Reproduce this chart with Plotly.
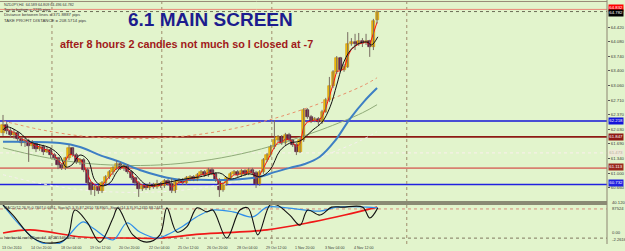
import plotly.graph_objects as go
import pandas as pd

# ---------------- data (NZDJPY H4) ----------------
opens = [61.94,62.12,61.98,61.89,61.94,61.80,61.70,61.75,61.63,61.68,
 61.56,61.61,61.49,61.54,61.42,61.35,61.19,61.12,61.35,61.59,
 61.42,61.26,61.30,61.07,60.77,60.60,60.67,60.58,60.77,60.91,
 61.02,61.12,61.21,61.12,61.16,61.02,60.88,60.77,60.63,60.70,
 60.65,60.72,60.67,60.74,60.70,60.81,60.74,60.58,60.79,60.84,
 60.77,60.88,60.91,60.86,60.95,61.02,60.95,61.07,60.98,60.84,
 60.60,60.74,60.88,60.98,61.02,60.95,61.05,60.98,61.07,61.00,
 60.74,61.02,61.30,61.42,61.61,61.77,61.84,61.70,61.89,61.77,
 61.66,61.49,61.77,62.48,62.31,62.22,62.27,62.19,62.43,62.71,
 63.04,63.37,63.69,63.41,63.48,64.02,64.07,64.02,64.09,64.05,
 64.09,63.95,64.59]
closes = [62.12,61.98,61.89,61.94,61.80,61.70,61.75,61.63,61.68,61.56,
 61.61,61.49,61.54,61.42,61.35,61.19,61.12,61.35,61.59,61.42,
 61.26,61.30,61.07,60.77,60.60,60.67,60.58,60.77,60.91,61.02,
 61.12,61.21,61.12,61.16,61.02,60.88,60.77,60.63,60.70,60.65,
 60.72,60.67,60.74,60.70,60.81,60.74,60.58,60.79,60.84,60.77,
 60.88,60.91,60.86,60.95,61.02,60.95,61.07,60.98,60.84,60.60,
 60.74,60.88,60.98,61.02,60.95,61.05,60.98,61.07,61.00,60.74,
 61.02,61.30,61.42,61.61,61.77,61.84,61.70,61.89,61.77,61.66,
 61.49,61.77,62.48,62.31,62.22,62.27,62.19,62.43,62.71,63.04,
 63.37,63.69,63.41,63.48,64.02,64.07,64.02,64.09,64.05,64.09,
 63.95,64.56,64.78]
highs = [62.36,62.19,62.05,62.03,61.98,61.84,61.84,61.80,61.77,61.70,
 61.68,61.66,61.61,61.59,61.47,61.38,61.23,61.38,61.66,61.61,
 61.47,61.35,61.35,61.12,60.81,60.72,60.72,60.81,60.95,61.07,
 61.16,61.30,61.26,61.21,61.21,61.07,60.91,60.81,60.74,60.74,
 60.79,60.77,60.84,60.79,60.86,60.86,60.88,60.84,60.88,60.88,
 60.93,60.95,60.95,61.00,61.07,61.07,61.12,61.12,61.02,60.88,
 60.79,60.91,61.02,61.07,61.07,61.09,61.09,61.12,61.12,61.05,
 61.07,61.35,61.47,61.66,62.24,61.89,61.89,61.94,61.94,61.80,
 61.70,61.82,62.52,62.52,62.36,62.31,62.31,62.48,62.76,63.25,
 63.41,63.74,63.72,63.55,64.30,64.16,64.26,64.28,64.16,64.26,
 64.12,64.61,64.81]
lows = [61.87,61.91,61.82,61.80,61.75,61.63,61.61,61.26,61.56,61.49,
 61.52,61.42,61.47,61.35,61.30,61.09,61.07,61.07,61.30,61.38,
 61.21,61.19,61.02,60.72,60.49,60.46,60.51,60.53,60.72,60.86,
 60.95,61.07,61.07,61.05,60.98,60.84,60.70,60.44,60.58,60.60,
 60.60,60.63,60.63,60.65,60.65,60.70,60.53,60.53,60.74,60.72,
 60.72,60.81,60.81,60.81,60.91,60.91,60.91,60.95,60.79,60.44,
 60.56,60.70,60.84,60.95,60.91,60.91,60.93,60.95,60.95,60.65,
 60.70,60.98,61.26,61.38,61.56,61.73,61.66,61.66,61.73,61.61,
 61.42,61.47,61.73,62.27,62.17,62.19,62.12,62.15,62.41,62.66,
 62.99,63.32,63.37,63.37,63.46,63.98,63.88,63.98,63.95,64.00,
 63.72,63.88,64.50]

# slow MA (blue)
blue_bars = [0,15.5,21,26.4,31.9,37.3,42.8,48.2,53.7,61.9,70,74,78.2,82.3,86.4,90.5,94.6,98.6,102]
blue_vals = [61.73,61.70,61.61,61.42,61.26,61.07,60.93,60.84,60.84,60.84,60.91,61.02,61.12,61.21,61.38,61.75,62.27,62.69,62.99]
# medium MA (black)
black_bars = [0,1.1,4.6,7.4,12.8,15.5,17.2,18.8,21,23.2,25,27,29.2,31,32.7,35.4,39.2,42.8,48.2,53.7,59.1,61.9,67.3,70,72.8,75.5,78.2,81,84.5,87,89.2,91,92.6,94.6,96.7,99.2,100.5,102.2]
black_vals = [62.01,62.08,61.94,61.73,61.59,61.40,61.14,61.19,61.42,61.30,60.84,60.70,60.77,61.02,61.16,61.02,60.72,60.74,60.84,60.91,61.00,60.86,60.98,60.91,61.07,61.52,61.70,61.75,62.01,62.19,62.55,63.06,63.53,63.86,64.02,64.07,64.00,64.19]
# regression channel
chan_bars = [0,10,21,32,43,54,65,76,87,98,102]
chan_mid = [61.59,61.39,61.24,61.18,61.19,61.28,61.45,61.70,62.02,62.41,62.60]
chan_up = [62.22,62.02,61.87,61.81,61.82,61.91,62.08,62.33,62.65,63.04,63.23]
chan_lo = [60.96,60.76,60.61,60.55,60.56,60.65,60.82,61.07,61.39,61.78,61.97]

# horizontal levels (price, color, width, dash, label bg, label text color)
levels = [(62.218, "#1414D8", 1.6, "solid", "#1414D8", "white"),
          (61.847, "#8E1A14", 1.6, "solid", "#8E1A14", "white"),
          (61.473, "#F6F0E6", 1.2, "dot", "#EEE8D8", "#B8B0A0"),
          (61.113, "#D88070", 1.6, "solid", "#9A2A1E", "white"),
          (60.732, "#2020E0", 1.6, "solid", "#2020E0", "white")]
bid, ask = 64.782, 64.832

price_ticks = [64.420,64.080,63.740,63.400,63.060,62.710,62.370,62.030,61.690,61.340,61.000,60.660]

date_bars = [0,8,16,24,32,40,48,56,64,72,80,88,96]
date_labels = ["13 Oct 2010","14 Oct 20:00","18 Oct 04:00","19 Oct 12:00","20 Oct 20:00","22 Oct 04:00",
               "25 Oct 12:00","26 Oct 20:00","28 Oct 04:00","29 Oct 12:00","1 Nov 20:00","3 Nov 04:00","4 Nov 12:00"]
separators = [13.35, 43.3, 73.3, 110.1]

# oscillator sub window (0..100 scale)
osc_red_bars = [0,7.4,21.8,35.4,42.8,53.7,72,84.5,93.2,102]
osc_red = [22,31,11,8,8,19,31,53,72,94]
osc_blue_bars = [0,4.6,10.1,15.5,21.8,24.5,30,33.8,37.3,42,44.7,48.2,53.7,57.2,62.7,68.1,72,77.4,86.4,91,99.2,102.2]
osc_blue = [100,44,-3,-6,53,36,3,50,25,8,17,36,72,86,81,67,94,92,83,94,94,92]
osc_black_bars = [0,2.7,8.2,12.8,17.4,19.6,22.9,26.4,30,31.3,35.4,39.2,42.8,44.7,47.4,50.1,52.9,55.6,57.2,61,64.6,66.8,69.5,72.8,74.7,78.2,81,83.1,86.4,89.6,92.6,98.1,100,102.2]
osc_black = [100,72,8,-6,8,86,53,-3,64,92,17,-3,17,92,25,39,92,81,86,8,86,92,17,100,100,72,44,86,72,94,94,94,64,92]

# ---------------- figure ----------------
W, H = 625, 251
BG = "#E2F4CC"
XR = 607 / W
XRANGE = [-0.82, 164.7]
FONT = "Liberation Sans"
def py(p):
    return 1 - p / H

n = len(closes)
idx = list(range(n))
fig = go.Figure()

# regression channel
fig.add_trace(go.Scatter(x=chan_bars, y=chan_up, mode="lines", line=dict(color="#E8906A", width=1, dash="dot", shape="spline")))
fig.add_trace(go.Scatter(x=chan_bars, y=chan_mid, mode="lines", line=dict(color="#8FAA78", width=1, shape="spline")))
fig.add_trace(go.Scatter(x=chan_bars, y=chan_lo, mode="lines", line=dict(color="#F6F0F0", width=1, dash="dot", shape="spline")))

# blue MA
fig.add_trace(go.Scatter(x=blue_bars, y=blue_vals, mode="lines", line=dict(color="#3D7FC4", width=2, shape="spline")))
# red fast MA (EMA3 of closes)
red_ma = pd.Series(closes).ewm(span=3, adjust=False).mean().tolist()
fig.add_trace(go.Scatter(x=idx, y=red_ma, mode="lines", line=dict(color="#FF1010", width=1)))

# wicks
wx, wy = [], []
for i in idx:
    wx += [i, i, None]
    wy += [lows[i], highs[i], None]
fig.add_trace(go.Scatter(x=wx, y=wy, mode="lines", line=dict(color="#776A60", width=1)))

# bodies
bull = [i for i in idx if closes[i] >= opens[i]]
bear = [i for i in idx if closes[i] < opens[i]]
fig.add_trace(go.Bar(x=bull, y=[max(closes[i] - opens[i], 0.012) for i in bull], base=[opens[i] for i in bull],
                     width=0.85, marker=dict(color="#F5C200", line=dict(color="#D08C00", width=0.6))))
fig.add_trace(go.Bar(x=bear, y=[max(opens[i] - closes[i], 0.012) for i in bear], base=[closes[i] for i in bear],
                     width=0.85, marker=dict(color="#6C1E48", line=dict(color="#4A1030", width=0.6))))

# black MA on top
fig.add_trace(go.Scatter(x=black_bars, y=black_vals, mode="lines", line=dict(color="#101010", width=1, shape="spline")))

# oscillators
fig.add_trace(go.Scatter(x=osc_red_bars, y=osc_red, mode="lines", xaxis="x2", yaxis="y2", line=dict(color="#F01818", width=1.6, shape="spline")))
fig.add_trace(go.Scatter(x=osc_blue_bars, y=osc_blue, mode="lines", xaxis="x2", yaxis="y2", line=dict(color="#2F8FEA", width=1.2, shape="spline")))
fig.add_trace(go.Scatter(x=osc_black_bars, y=osc_black, mode="lines", xaxis="x2", yaxis="y2", line=dict(color="#111111", width=1.1, shape="spline")))

shapes = []
ann = []
def label(p, bg, fg, ys=0):
    ann.append(dict(xref="paper", x=608 / W, xanchor="left", yref="y", y=p, yanchor="middle", yshift=ys, text=f"{p:.3f}",
                    showarrow=False, bgcolor=bg, font=dict(size=4.3, color=fg, family=FONT), borderpad=0.3))
# horizontal levels
for p, c, w, d, lb, lt in levels:
    shapes.append(dict(type="line", xref="paper", x0=0, x1=XR, yref="y", y0=p, y1=p, line=dict(color=c, width=w, dash=d), layer="below"))
    label(p, lb, lt, 1 if p < 61.2 else 0)
shapes.append(dict(type="line", xref="paper", x0=0, x1=XR, yref="y", y0=ask, y1=ask, line=dict(color="#E88A78", width=1)))
shapes.append(dict(type="line", xref="paper", x0=0, x1=XR, yref="y", y0=bid, y1=bid, line=dict(color="#6E6E58", width=1, dash="dot")))
label(ask, "#FF0000", "white", 1.5)
label(bid, "#000000", "white", -1.5)
# top border
shapes.append(dict(type="line", xref="paper", x0=0, x1=XR, yref="paper", y0=py(1.5), y1=py(1.5), line=dict(color="#9A8C78", width=1)))
# separators (vertical dotted)
for s in separators:
    shapes.append(dict(type="line", xref="x", x0=s, x1=s, yref="paper", y0=py(244), y1=1, line=dict(color="#A08C6C", width=1, dash="dot"), layer="below"))
# window separator band
shapes.append(dict(type="rect", xref="paper", x0=0, x1=XR, yref="paper", y0=py(205), y1=py(201), fillcolor="#8A8A74", line=dict(width=0)))
# oscillator levels
shapes.append(dict(type="line", xref="paper", x0=0, x1=XR, yref="y2", y0=89, y1=89, line=dict(color="#D88C7C", width=1, dash="dot"), layer="below"))
shapes.append(dict(type="line", xref="paper", x0=0, x1=XR, yref="y2", y0=8, y1=8, line=dict(color="#807860", width=1, dash="dot"), layer="below"))
# right border
shapes.append(dict(type="line", xref="paper", x0=XR, x1=XR, yref="paper", y0=py(244), y1=1, line=dict(color="#8C8470", width=1)))

# texts
ann.append(dict(xref="paper", yref="paper", x=210 / W, xanchor="center", y=py(19.5), yanchor="middle",
                text="<b>6.1 MAIN SCREEN</b>", showarrow=False, font=dict(size=19, color="#1C1C8E", family=FONT)))
ann.append(dict(xref="paper", yref="paper", x=186.5 / W, xanchor="center", y=py(44), yanchor="middle",
                text="<b>after 8 hours 2 candles not much so I closed at -7</b>",
                showarrow=False, font=dict(size=10.8, color="#A01A1A", family=FONT)))
head = ["NZDJPY,H4  64.589 64.809 64.496 64.782", "Top to bottom = 2235 pips",
        "Distance between lines = 371.8887 pips", "TAKE PROFIT DISTANCE = 208.5714 pips"]
for t, yy, fs in zip(head, [4.7, 9.7, 15, 20], [3.7, 4.0, 4.3, 4.3]):
    ann.append(dict(xref="paper", yref="paper", x=2 / W, xanchor="left", y=py(yy), yanchor="middle", text=t, showarrow=False,
                    font=dict(size=fs, color="#3A3A3A", family=FONT)))
ann.append(dict(xref="paper", yref="paper", x=2 / W, xanchor="left", y=py(208), yanchor="middle", showarrow=False,
                text="MACD(12,26,9) 0.7847 0.6651  Stoch(5,3,3) 87.2610 78.8905  Stoch(14,3,3) 95.2435 88.2442",
                font=dict(size=3.8, color="#3A3A3A", family=FONT)))
ann.append(dict(xref="paper", yref="paper", x=2 / W, xanchor="left", y=py(238), yanchor="middle", showarrow=False,
                text="InterbankLevels(Period 4, 3) 2857 Mode 3 ...",
                font=dict(size=3.8, color="#3A3A3A", family=FONT)))
for t, yy in zip(["40.120", "87524", "0.00", "-2.2616"], [202.5, 208.5, 232, 239.5]):
    ann.append(dict(xref="paper", yref="paper", x=610 / W, xanchor="left", y=py(yy), yanchor="middle", text=t, showarrow=False,
                    font=dict(size=4.2, color="#3A3A3A", family=FONT)))
for b, t in zip(date_bars, date_labels):
    ann.append(dict(xref="x", yref="paper", x=b, xanchor="left", xshift=-3, y=py(247.5), yanchor="middle", text=t, showarrow=False,
                    font=dict(size=3.6, color="#3A3A3A", family=FONT)))

fig.update_layout(
    width=W, height=H, margin=dict(l=0, r=0, t=0, b=0),
    paper_bgcolor=BG, plot_bgcolor=BG, showlegend=False, barmode="overlay", bargap=0,
    xaxis=dict(domain=[0, XR], range=XRANGE, showticklabels=False, showgrid=False, zeroline=False, anchor="y"),
    xaxis2=dict(domain=[0, XR], range=XRANGE, showticklabels=False, showgrid=False, zeroline=False, anchor="y2", matches="x"),
    yaxis=dict(domain=[py(201), 1], range=[60.344, 65.0525], side="right", anchor="x", showgrid=False, zeroline=False,
               tickvals=price_ticks, ticktext=[f"{v:.3f}" for v in price_ticks], ticks="outside", ticklen=2,
               tickcolor="#555", tickfont=dict(size=4.3, color="#3A3A3A", family=FONT)),
    yaxis2=dict(domain=[py(244), py(202)], range=[-8.33, 108.3], side="right", anchor="x2", showgrid=False,
                zeroline=False, showticklabels=False),
    shapes=shapes, annotations=ann,
)
fig.write_html("out.html")
